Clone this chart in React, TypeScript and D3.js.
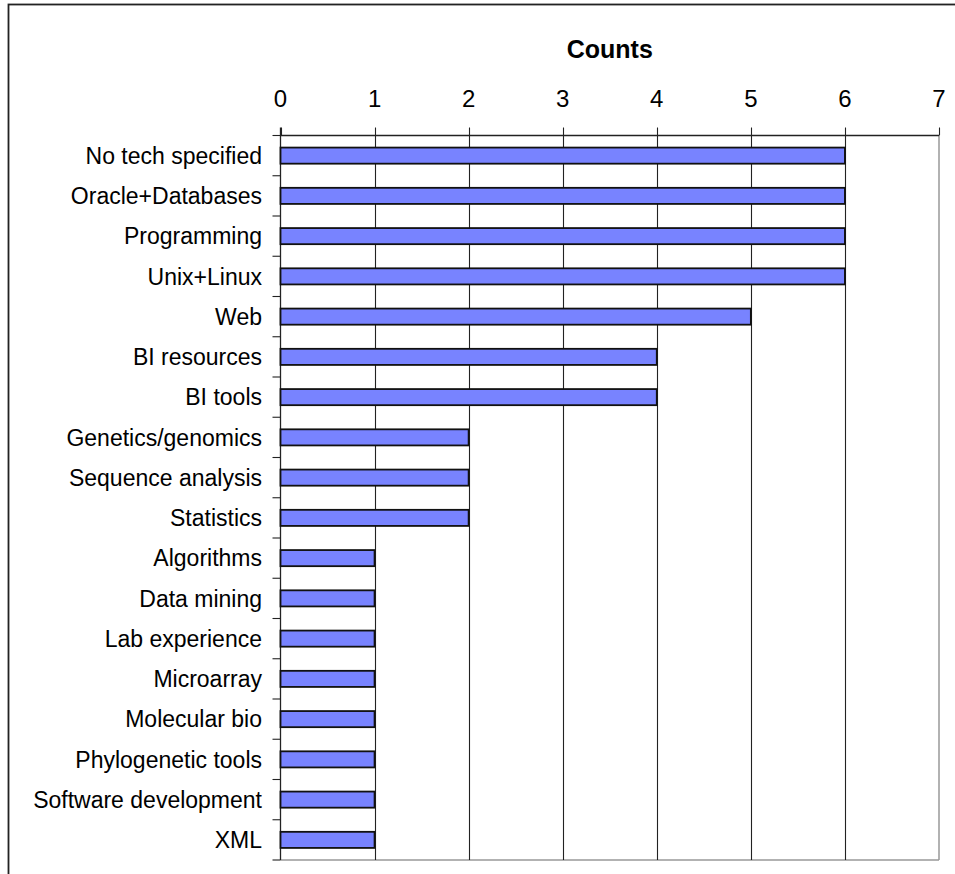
import React from "react";
import * as d3 from "d3";

const categories = [
  "No tech specified",
  "Oracle+Databases",
  "Programming",
  "Unix+Linux",
  "Web",
  "BI resources",
  "BI tools",
  "Genetics/genomics",
  "Sequence analysis",
  "Statistics",
  "Algorithms",
  "Data mining",
  "Lab experience",
  "Microarray",
  "Molecular bio",
  "Phylogenetic tools",
  "Software development",
  "XML",
];
const counts = [6, 6, 6, 6, 5, 4, 4, 2, 2, 2, 1, 1, 1, 1, 1, 1, 1, 1];
const xTicks = [0, 1, 2, 3, 4, 5, 6, 7];
const axisTitle = "Counts";

const W = 955;
const H = 874;
const left = 280.5;
const right = 939;
const top = 135.5;
const bottom = 860;
const FONT = "'Liberation Sans', Arial, sans-serif";

export default function App() {
  const x = d3.scaleLinear().domain([0, 7]).range([left, right]);
  const y = d3
    .scaleBand<string>()
    .domain(categories)
    .range([top, bottom])
    .paddingInner(0.6)
    .paddingOuter(0.3);
  const step = y.step();
  const bandStart = (c: string) => y(c)! - y.paddingOuter() * step;

  return (
    <svg
      width={W}
      height={H}
      style={{ position: "absolute", left: 0, top: 0, background: "#fff" }}
      fontFamily={FONT}
    >
      {/* outer chart border (clipped right/bottom) */}
      <rect x={8.5} y={4.5} width={W + 10} height={H + 10} fill="#fff" stroke="#222" strokeWidth={1.8} />

      {/* plot border right & bottom */}
      <line x1={right} x2={right} y1={top} y2={bottom} stroke="#999" strokeWidth={1.5} />
      <line x1={left} x2={right} y1={bottom} y2={bottom} stroke="#999" strokeWidth={1.5} />

      {/* vertical gridlines */}
      {xTicks.slice(1, -1).map((t) => (
        <line key={"g" + t} x1={Math.round(x(t)) + 0.5} x2={Math.round(x(t)) + 0.5} y1={top} y2={bottom} stroke="#222" strokeWidth={1.1} />
      ))}

      {/* top axis */}
      <line x1={left} x2={right} y1={top} y2={top} stroke="#222" strokeWidth={1.3} />
      {xTicks.map((t) => (
        <g key={"t" + t}>
          <line x1={Math.round(x(t)) + 0.5} x2={Math.round(x(t)) + 0.5} y1={top - 8} y2={top} stroke="#222" strokeWidth={1.1} />
          <text x={x(t)} y={107} textAnchor="middle" fontSize={24} fill="#000">
            {t}
          </text>
        </g>
      ))}
      <text x={(left + right) / 2} y={58} textAnchor="middle" fontSize={25} fontWeight="bold" fill="#000">
        {axisTitle}
      </text>

      {/* left axis */}
      <line x1={left} x2={left} y1={top - 8} y2={bottom} stroke="#222" strokeWidth={1.3} />
      {categories.map((c, i) => (
        <line key={"lt" + i} x1={left - 8} x2={left} y1={bandStart(c)} y2={bandStart(c)} stroke="#222" strokeWidth={1.1} />
      ))}
      <line x1={left - 8} x2={left} y1={bottom} y2={bottom} stroke="#222" strokeWidth={1.1} />

      {/* bars */}
      {categories.map((c, i) => (
        <rect
          key={"b" + i}
          x={x(0)}
          y={y(c)!}
          width={x(counts[i]) - x(0)}
          height={y.bandwidth()}
          fill="#7883ff"
          stroke="#111"
          strokeWidth={1.8}
        />
      ))}

      {/* category labels */}
      {categories.map((c, i) => (
        <text
          key={"l" + i}
          x={262}
          y={y(c)! + y.bandwidth() / 2}
          dy="0.36em"
          textAnchor="end"
          fontSize={23}
          fill="#000"
        >
          {c}
        </text>
      ))}
    </svg>
  );
}
